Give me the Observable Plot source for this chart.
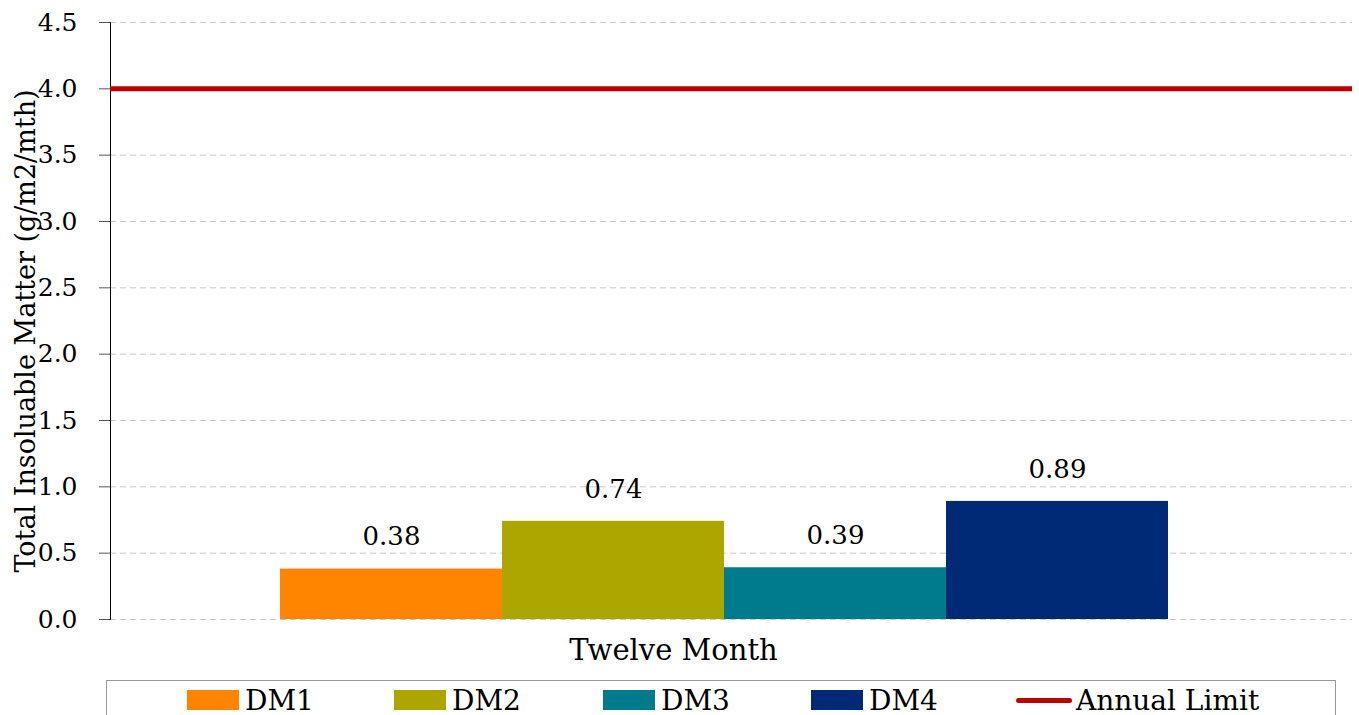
<!DOCTYPE html>
<html>
<head>
<meta charset="utf-8">
<script src="https://cdn.jsdelivr.net/npm/d3@7"></script>
<script src="https://cdn.jsdelivr.net/npm/@observablehq/plot@0.6"></script>
<style>
  html, body { margin: 0; padding: 0; background: #fff; }
  body { width: 1359px; height: 715px; overflow: hidden; font-family: "DejaVu Serif", serif; }
  #legend { position: relative; margin-left: 106px; width: 1230px; height: 40px; border: 1px solid #999; box-sizing: border-box; }
  .item { position: absolute; top: 0; height: 38px; display: flex; align-items: center; font-size: 28px; color: #000; }
  .sw { width: 52px; height: 20px; margin-right: 6px; }
  .ln { width: 56px; height: 5px; border-radius: 3px; margin-right: 4px; }
</style>
</head>
<body>
<div id="chart"></div>
<div id="legend"></div>
<script>
const series = ["DM1", "DM2", "DM3", "DM4"];
const values = [0.38, 0.74, 0.39, 0.89];
const colors = ["#FF8500", "#ADA600", "#007B8D", "#002A76"];
const limitValue = 4.0;
const limitLabel = "Annual Limit";
const limitColor = "#C00000";
const yTicks = [0, 0.5, 1.0, 1.5, 2.0, 2.5, 3.0, 3.5, 4.0, 4.5];
const xTitle = "Twelve Month";
const yTitle = "Total Insoluable Matter (g/m2/mth)";

const data = series.map((s, i) => ({series: s, value: values[i]}));

const plot = Plot.plot({
  width: 1359,
  height: 680,
  marginTop: 22,
  marginBottom: 61,
  marginLeft: 110,
  marginRight: 7,
  style: {fontFamily: "DejaVu Serif, serif", background: "#fff"},
  x: {domain: series, range: [278, 1169], padding: 0, axis: null},
  y: {domain: [0, 4.5], axis: null},
  color: {domain: series, range: colors},
  marks: [
    Plot.gridY(yTicks, {stroke: "#c8c8c8", strokeOpacity: 1, strokeDasharray: "6,4"}),
    Plot.axisY(yTicks, {tickFormat: d3.format(".1f"), tickSize: 11, tickPadding: 22, fontSize: 25, stroke: "#555", label: null, color: "#000"}),
    Plot.frame({anchor: "left", stroke: "#000"}),
    Plot.barY(data, {x: "series", y: "value", fill: "series"}),
    Plot.ruleY([limitValue], {stroke: limitColor, strokeWidth: 5}),
    Plot.text(data, {x: "series", y: "value", text: d => d.value.toFixed(2), dy: -32, fontSize: 26, fill: "#000"}),
    Plot.text([xTitle], {frameAnchor: "bottom", dx: -58, dy: 31, lineAnchor: "middle", fontSize: 29, fill: "#000"}),
    Plot.text([yTitle], {frameAnchor: "left", rotate: -90, dx: -84, dy: 10, textAnchor: "middle", lineAnchor: "middle", fontSize: 27, fill: "#000"})
  ]
});
document.getElementById("chart").appendChild(plot);

const legend = document.getElementById("legend");
const lefts = [80, 287, 496, 704];
series.forEach((s, i) => {
  const it = document.createElement("div");
  it.className = "item";
  it.style.left = lefts[i] + "px";
  it.innerHTML = `<div class="sw" style="background:${colors[i]}"></div><span>${s}</span>`;
  legend.appendChild(it);
});
const lim = document.createElement("div");
lim.className = "item";
lim.style.left = "909px";
lim.innerHTML = `<div class="ln" style="background:${limitColor}"></div><span>${limitLabel}</span>`;
legend.appendChild(lim);
</script>
</body>
</html>
